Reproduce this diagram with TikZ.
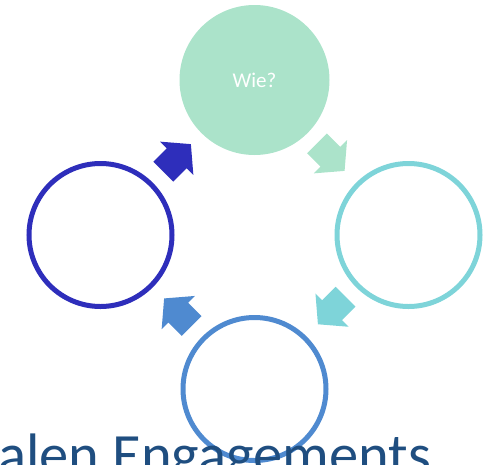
\documentclass[tikz,border=0pt]{standalone}
\usepackage{fontspec}
\setmainfont{Carlito}
\definecolor{cmint}{HTML}{ABE3CA}
\definecolor{cteal}{HTML}{7ED4D9}
\definecolor{cblue}{HTML}{4F8AD0}
\definecolor{cdark}{HTML}{2E2EBB}
\definecolor{ctext}{HTML}{1F4E80}
\tikzset{
  ring/.style={circle, draw=#1, line width=5pt, minimum size=143pt, inner sep=0pt, outer sep=0pt},
}
\newcommand{\blockarr}[3]{% center of tail, angle, colour
  \begin{scope}[shift={(#1)}, rotate=#2]
    \fill[#3] (0,-14) -- (19,-14) -- (19,-23.5) -- (39,0) -- (19,23.5) -- (19,14) -- (0,14) -- cycle;
  \end{scope}}
\begin{document}
\begin{tikzpicture}[x=1pt,y=-1pt]
  \useasboundingbox (0,0) rectangle (495,464);
  \node[circle, fill=cmint, minimum size=150pt, inner sep=0pt] (top) at (254.5,80) {};
  \node[text=white, font=\fontsize{21}{24}\selectfont] (wie) at (top.center) {Wie?};
  \node[ring=cteal] (right) at (408.5,235) {};
  \node[ring=cblue] (bottom) at (254.5,389) {};
  \node[ring=cdark] (left) at (100.5,235) {};
  \coordinate (a1) at (317,143.3);
  \coordinate (a2) at (345.5,296.7);
  \coordinate (a3) at (191.7,326);
  \coordinate (a4) at (163.3,171.7);
  \blockarr{a1}{-45}{cmint}
  \blockarr{a2}{-135}{cteal}
  \blockarr{a3}{135}{cblue}
  \blockarr{a4}{45}{cdark}
  \node[anchor=base west, text=ctext, inner sep=0pt, font=\fontsize{58.5}{61}\selectfont] (title) at (-2,474) {alen Engagements};
\end{tikzpicture}
\end{document}
